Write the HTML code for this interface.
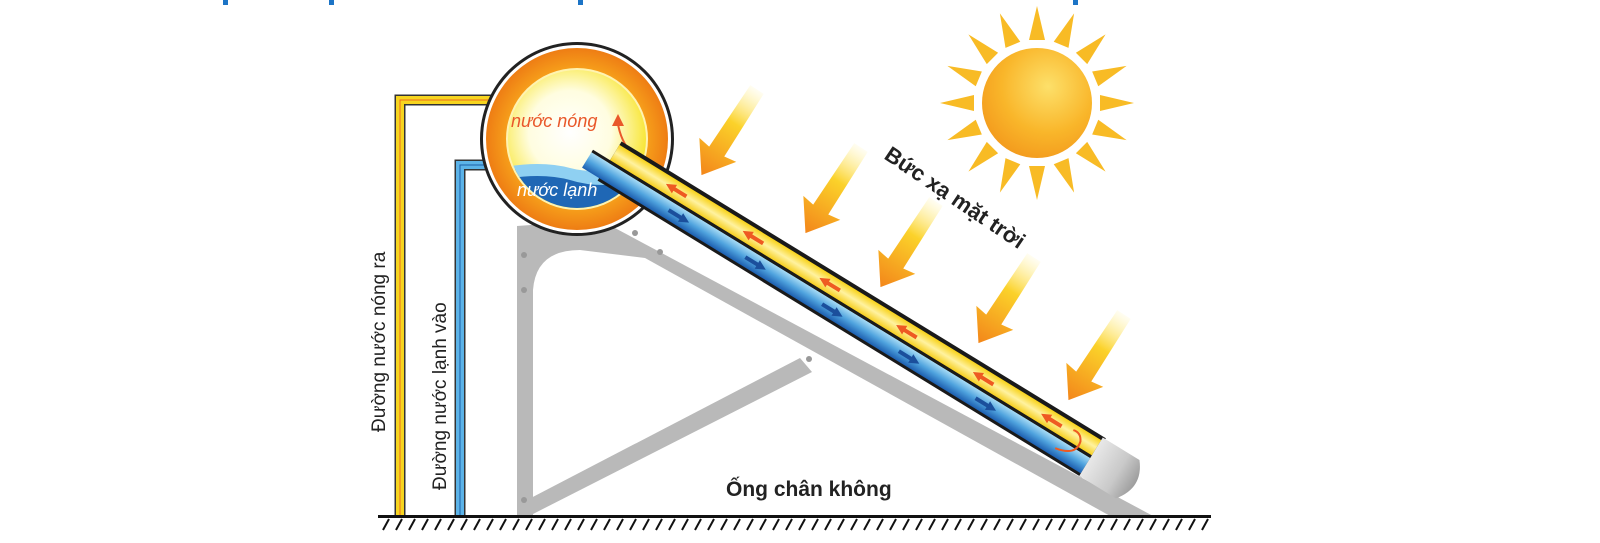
<!DOCTYPE html>
<html><head><meta charset="utf-8"><style>html,body{margin:0;padding:0;background:#fff;}svg{display:block}</style></head>
<body>
<svg width="1600" height="543" viewBox="0 0 1600 543" xmlns="http://www.w3.org/2000/svg" font-family="Liberation Sans, DejaVu Sans, sans-serif">
<defs>
<radialGradient id="tankIn" cx="0.45" cy="0.45" r="0.6"><stop offset="0" stop-color="#ffffff"/><stop offset="0.5" stop-color="#fffde0"/><stop offset="1" stop-color="#f7e21a"/></radialGradient>
<radialGradient id="tankOut" cx="0.5" cy="0.5" r="0.5"><stop offset="0.75" stop-color="#f7a21b"/><stop offset="1" stop-color="#ee7d14"/></radialGradient>
<linearGradient id="yel" x1="0" y1="0" x2="0" y2="1"><stop offset="0" stop-color="#f8d21a"/><stop offset="0.5" stop-color="#fff2a0"/><stop offset="1" stop-color="#f6cf20"/></linearGradient>
<linearGradient id="blu" x1="0" y1="0" x2="0" y2="1"><stop offset="0" stop-color="#a9dcf5"/><stop offset="0.5" stop-color="#4fa3de"/><stop offset="1" stop-color="#1d5fb0"/></linearGradient>
<linearGradient id="arr" x1="0" y1="0" x2="0" y2="1"><stop offset="0" stop-color="#ffee80" stop-opacity="0.1"/><stop offset="0.4" stop-color="#fbd22a"/><stop offset="1" stop-color="#f3861a"/></linearGradient>
<radialGradient id="sun" cx="0.6" cy="0.35" r="0.7"><stop offset="0" stop-color="#fde06a"/><stop offset="0.6" stop-color="#f9b62a"/><stop offset="1" stop-color="#f39a1d"/></radialGradient>
<linearGradient id="cap" x1="0" y1="0" x2="1" y2="0"><stop offset="0" stop-color="#e8e8e8"/><stop offset="0.6" stop-color="#c9c9c9"/><stop offset="1" stop-color="#9d9d9d"/></linearGradient>
<g id="ar"><path d="M-8,-90 L8,-90 L9,-16 L22,-18 L0,12 L-22,-18 L-9,-16 Z" fill="url(#arr)"/></g>
</defs>

<rect x="223" y="0" width="5" height="5" fill="#1c74c6"/>
<rect x="329" y="0" width="5" height="5" fill="#1c74c6"/>
<rect x="578" y="0" width="5" height="5" fill="#1c74c6"/>
<rect x="1073" y="0" width="5" height="5" fill="#1c74c6"/>

<!-- frame -->
<path d="M517,517 L517,226 L600,220 L1155,517 Z" fill="#b9b9b9"/>
<path d="M533,517 L533,290 Q536,250 580,250 L645,258 L1112,517 Z" fill="#fff"/>
<path d="M527,500 L800,358 L812,372 L533,514 Z" fill="#b9b9b9"/>
<g fill="#999"><circle cx="524" cy="255" r="3"/><circle cx="524" cy="290" r="3"/><circle cx="524" cy="500" r="3"/><circle cx="635" cy="233" r="3"/><circle cx="660" cy="252" r="3"/><circle cx="809" cy="359" r="3"/></g>

<!-- pipes -->
<path d="M400,515 L400,100 L522,100" fill="none" stroke="#333" stroke-width="11"/>
<path d="M400,515 L400,100 L522,100" fill="none" stroke="#f7d51f" stroke-width="8"/>
<path d="M400,515 L400,100 L522,100" fill="none" stroke="#ee6a1e" stroke-width="1"/>
<path d="M460,515 L460,165 L522,165" fill="none" stroke="#333" stroke-width="11"/>
<path d="M460,515 L460,165 L522,165" fill="none" stroke="#5cb3e8" stroke-width="8"/>
<path d="M460,515 L460,165 L522,165" fill="none" stroke="#1b5fa8" stroke-width="1"/>

<!-- tank -->
<circle cx="577" cy="139" r="97" fill="#222"/>
<circle cx="577" cy="139" r="94" fill="#fff"/>
<circle cx="577" cy="139" r="91" fill="url(#tankOut)"/>
<circle cx="577" cy="139" r="71" fill="#fff3b0"/>
<circle cx="577" cy="139" r="69" fill="url(#tankIn)"/>
<clipPath id="tc"><circle cx="577" cy="139" r="69"/></clipPath>
<g clip-path="url(#tc)">
<path d="M500,172 Q540,162 570,172 Q600,180 650,168 L650,260 L500,260 Z" fill="#1f67b5"/>
<path d="M500,168 Q540,160 570,168 Q600,176 650,164 L650,180 Q600,190 570,180 Q540,172 500,180 Z" fill="#8fd0f2"/>
</g>
<text x="511" y="127" font-size="18" font-style="italic" fill="#e9582a">nước nóng</text>
<text x="517" y="196" font-size="18" font-style="italic" fill="#fff">nước lạnh</text>
<path d="M642,163 Q622,148 618,124" fill="none" stroke="#e9582a" stroke-width="2"/>
<path d="M612,126 L618,114 L624,126 Z" fill="#e9582a"/>

<!-- tube -->
<g transform="translate(620,144) rotate(31.5)">
<rect x="0" y="-3" width="568" height="46" fill="#1a1a1a"/>
<rect x="0" y="1" width="565" height="18" fill="url(#yel)"/>
<rect x="-20" y="22" width="585" height="18" fill="url(#blu)"/>
<rect x="-20" y="19" width="585" height="3" fill="#1a1a1a"/>
<path d="M565,-2 L608,-2 Q626,20 608,43 L565,43 Z" fill="url(#cap)"/>
<g fill="#ee5a22">
<path d="M60,10 l10,-5 l0,3 l14,0 l0,4 l-14,0 l0,3 z"/><path d="M150,10 l10,-5 l0,3 l14,0 l0,4 l-14,0 l0,3 z"/><path d="M240,10 l10,-5 l0,3 l14,0 l0,4 l-14,0 l0,3 z"/><path d="M330,10 l10,-5 l0,3 l14,0 l0,4 l-14,0 l0,3 z"/><path d="M420,10 l10,-5 l0,3 l14,0 l0,4 l-14,0 l0,3 z"/><path d="M500,10 l10,-5 l0,3 l14,0 l0,4 l-14,0 l0,3 z"/>
</g>
<g fill="#1b4f9c">
<path d="M100,31 l-10,-5 l0,3 l-14,0 l0,4 l14,0 l0,3 z"/><path d="M190,31 l-10,-5 l0,3 l-14,0 l0,4 l14,0 l0,3 z"/><path d="M280,31 l-10,-5 l0,3 l-14,0 l0,4 l14,0 l0,3 z"/><path d="M370,31 l-10,-5 l0,3 l-14,0 l0,4 l14,0 l0,3 z"/><path d="M460,31 l-10,-5 l0,3 l-14,0 l0,4 l14,0 l0,3 z"/>
</g>
<path d="M530,32 Q552,28 548,13 Q544,5 536,7" fill="none" stroke="#ee5a22" stroke-width="2"/>
</g>

<!-- sun -->
<g transform="translate(1037,103)" fill="#f8bb25">
<g id="ray"><path d="M-8,-63 L8,-63 L0,-97 Z"/></g>
<use href="#ray" transform="rotate(22.5)"/><use href="#ray" transform="rotate(45)"/><use href="#ray" transform="rotate(67.5)"/><use href="#ray" transform="rotate(90)"/><use href="#ray" transform="rotate(112.5)"/><use href="#ray" transform="rotate(135)"/><use href="#ray" transform="rotate(157.5)"/><use href="#ray" transform="rotate(180)"/><use href="#ray" transform="rotate(202.5)"/><use href="#ray" transform="rotate(225)"/><use href="#ray" transform="rotate(247.5)"/><use href="#ray" transform="rotate(270)"/><use href="#ray" transform="rotate(292.5)"/><use href="#ray" transform="rotate(315)"/><use href="#ray" transform="rotate(337.5)"/>
<circle r="55" fill="url(#sun)"/>
</g>
<text transform="translate(883,158) rotate(34)" font-size="22" font-weight="bold" fill="#222">Bức xạ mặt trời</text>

<use href="#ar" transform="translate(708,165) rotate(33)"/>
<use href="#ar" transform="translate(812,223) rotate(33)"/>
<use href="#ar" transform="translate(887,277) rotate(33)"/>
<use href="#ar" transform="translate(985,333) rotate(33)"/>
<use href="#ar" transform="translate(1075,390) rotate(33)"/>

<text transform="translate(385,432) rotate(-90)" font-size="19" fill="#222">Đường nước nóng ra</text>
<text transform="translate(446,490) rotate(-90)" font-size="19" fill="#222">Đường nước lạnh vào</text>
<text x="726" y="496" font-size="21" font-weight="bold" fill="#222">Ống chân không</text>

<rect x="378" y="515" width="833" height="3" fill="#111"/>
<g stroke="#111" stroke-width="2">
<path d="M383,530 L389,519 M396,530 L402,519 M409,530 L415,519 M422,530 L428,519 M435,530 L441,519 M448,530 L454,519 M461,530 L467,519 M474,530 L480,519 M487,530 L493,519 M500,530 L506,519 M513,530 L519,519 M526,530 L532,519 M539,530 L545,519 M552,530 L558,519 M565,530 L571,519 M578,530 L584,519 M591,530 L597,519 M604,530 L610,519 M617,530 L623,519 M630,530 L636,519 M643,530 L649,519 M656,530 L662,519 M669,530 L675,519 M682,530 L688,519 M695,530 L701,519 M708,530 L714,519 M721,530 L727,519 M734,530 L740,519 M747,530 L753,519 M760,530 L766,519 M773,530 L779,519 M786,530 L792,519 M799,530 L805,519 M812,530 L818,519 M825,530 L831,519 M838,530 L844,519 M851,530 L857,519 M864,530 L870,519 M877,530 L883,519 M890,530 L896,519 M903,530 L909,519 M916,530 L922,519 M929,530 L935,519 M942,530 L948,519 M955,530 L961,519 M968,530 L974,519 M981,530 L987,519 M994,530 L1000,519 M1007,530 L1013,519 M1020,530 L1026,519 M1033,530 L1039,519 M1046,530 L1052,519 M1059,530 L1065,519 M1072,530 L1078,519 M1085,530 L1091,519 M1098,530 L1104,519 M1111,530 L1117,519 M1124,530 L1130,519 M1137,530 L1143,519 M1150,530 L1156,519 M1163,530 L1169,519 M1176,530 L1182,519 M1189,530 L1195,519 M1202,530 L1208,519"/>
</g>
</svg>
</body></html>
